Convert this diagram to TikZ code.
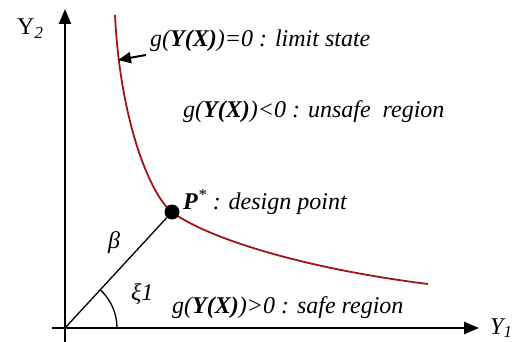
\documentclass[tikz,border=0pt]{standalone}
\usepackage{fontspec}
\setmainfont{Liberation Serif}
\usepackage{xcolor}
\usetikzlibrary{arrows.meta}
\definecolor{curvered}{RGB}{160,20,24}

\begin{document}
\begin{tikzpicture}[x=1pt, y=-1pt,
  axis/.style={line width=2.4pt, -{Triangle[length=15pt, width=12pt]}},
  lbl/.style={anchor=base west, inner sep=0pt, font=\fontsize{24}{28}\selectfont\itshape}]
\useasboundingbox (0,0) rectangle (517,342);
\coordinate (O) at (65,328);
\coordinate (xa) at (52,328);
\coordinate (xb) at (479,328);
\coordinate (ya) at (65,342);
\coordinate (yb) at (65,9);
\draw[axis] (xa) -- (xb);
\draw[axis] (ya) -- (yb);
\draw[curvered, line width=1.8pt] (115,15) .. controls (120,120) and (150,195) .. (172,212) .. controls (205,237) and (300,268) .. (428,284);
\coordinate (ls) at (118,60);
\node[circle, fill=black, inner sep=0pt, minimum size=15pt] (P) at (172,212) {};
\draw[line width=1.3pt] (O) -- (P);
\draw[line width=1.3pt] ([xshift=52pt]O) arc[start angle=0, end angle=47, radius=52pt];
\node[lbl] (ytwo) at (17,35) {\upshape Y\textsubscript{\itshape 2}};
\node[lbl] (yone) at (490,334) {Y\textsubscript{1}};
\node[lbl] (limit) at (150,47) {g(\textbf{Y(X)})=0 : limit state};
\node[lbl] (unsafe) at (183,118) {g(\textbf{Y(X)})<0 : unsafe\ \ region};
\node[lbl] (design) at (183,210) {\textbf{P}\textsuperscript{*} : design point};
\node[lbl] (safe) at (172,313) {g(\textbf{Y(X)})>0 : safe region};
\node[lbl] (beta) at (108,248) {β};
\node[lbl] (xi) at (131,300) {ξ1};
\draw[line width=2pt, -{Triangle[length=13pt, width=11pt]}] ([xshift=-4pt, yshift=-8pt]limit.base west) -- (ls);
\end{tikzpicture}
\end{document}
